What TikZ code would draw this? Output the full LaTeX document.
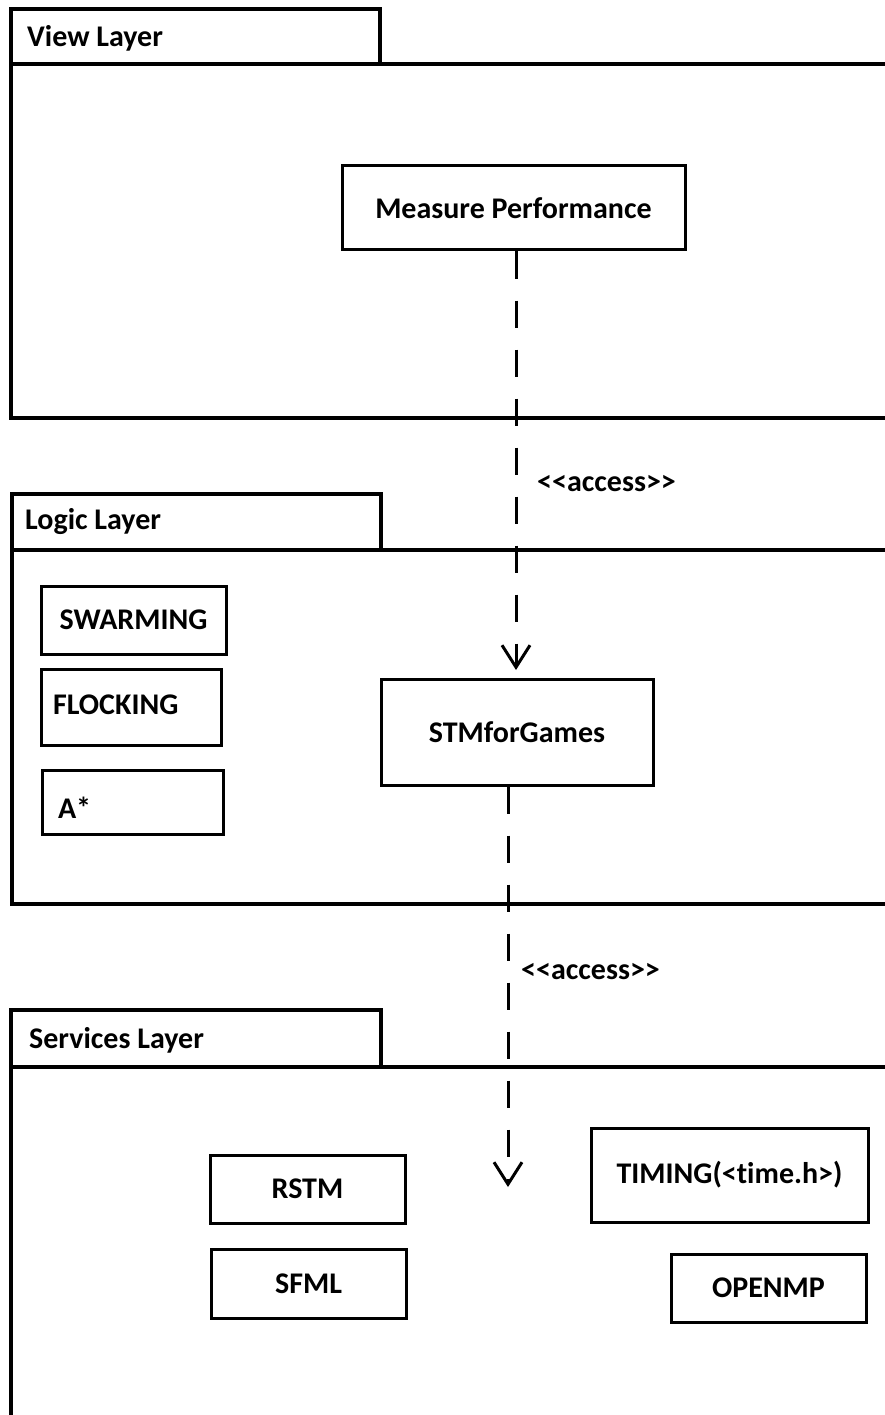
\documentclass[tikz,border=0pt]{standalone}
\usepackage{fontspec}
\setmainfont{Carlito}[Ligatures={NoCommon,TeXOff}]
\usetikzlibrary{arrows.meta}
\begin{document}
\begin{tikzpicture}[x=1pt,y=-1pt,
  every node/.style={font=\bfseries\fontsize{30}{34}\selectfont},
  frame/.style={draw=black,line width=3.6pt},
  comp/.style={draw=black,line width=3pt,inner sep=0pt,align=center},
  leftcomp/.style={draw=black,line width=3pt,inner ysep=0pt,align=left},
  layername/.style={anchor=west,inner sep=0pt},
  stereo/.style={anchor=west,inner sep=0pt},
  dep/.style={line width=3pt,dash pattern=on 27pt off 22pt,
    -{Straight Barb[length=22pt,width=28pt,line width=3pt]}}]
\useasboundingbox (0,0) rectangle (885,1415);
\clip (0,0) rectangle (885,1415);
\fill[white] (0,0) rectangle (885,1415);

% package frames: a tab with the layer name, and the body below it
\draw[frame] (11,9) rectangle (380,64);
\draw[frame] (11,64) rectangle (905,418);
\draw[frame] (12,494) rectangle (381,550);
\draw[frame] (12,550) rectangle (905,904);
\draw[frame] (11,1010) rectangle (381,1067);
\draw[frame] (11,1067) rectangle (905,1440);

\node[layername] (viewname) at (27,38) {View Layer};
\node[layername] (logicname) at (25,522) {Logic Layer};
\node[layername] (servname) at (29,1040) {Services Layer};

% view layer
\node[comp,minimum width=343,minimum height=84] (mp) at (513.5,208) {Measure Performance};

% logic layer
\node[comp,minimum width=185,minimum height=68] (swarm) at (133.5,620) {SWARMING};
\node[leftcomp,inner xsep=12pt,text width=156pt,minimum height=76] (flock) at (131,707) {\raisebox{4pt}{FLOCKING}};
\node[leftcomp,inner xsep=16pt,text width=149pt,minimum height=64] (astar) at (132.5,802) {\raisebox{-16pt}[0pt][0pt]{A*}};
\node[comp,minimum width=272,minimum height=106] (stm) at (517,732) {STMforGames};

% services layer
\node[comp,minimum width=195,minimum height=68] (rstm) at (307.5,1189) {RSTM};
\node[comp,minimum width=195,minimum height=69] (sfml) at (308.5,1283.5) {SFML};
\node[comp,minimum width=277,minimum height=94] (timing) at (729.5,1175) {TIMING(<time.h>)};
\node[comp,minimum width=195,minimum height=68] (openmp) at (768.5,1288) {OPENMP};

% access dependencies
\coordinate (stmin) at (516,670);
\coordinate (servin) at (508,1187);
\draw[dep] (mp.south -| stmin) -- (stmin);
\draw[dep] (stm.south -| servin) -- (servin);
\node[stereo] (acc1) at (537,484) {<<access>>};
\node[stereo] (acc2) at (521,972) {<<access>>};
\end{tikzpicture}
\end{document}
